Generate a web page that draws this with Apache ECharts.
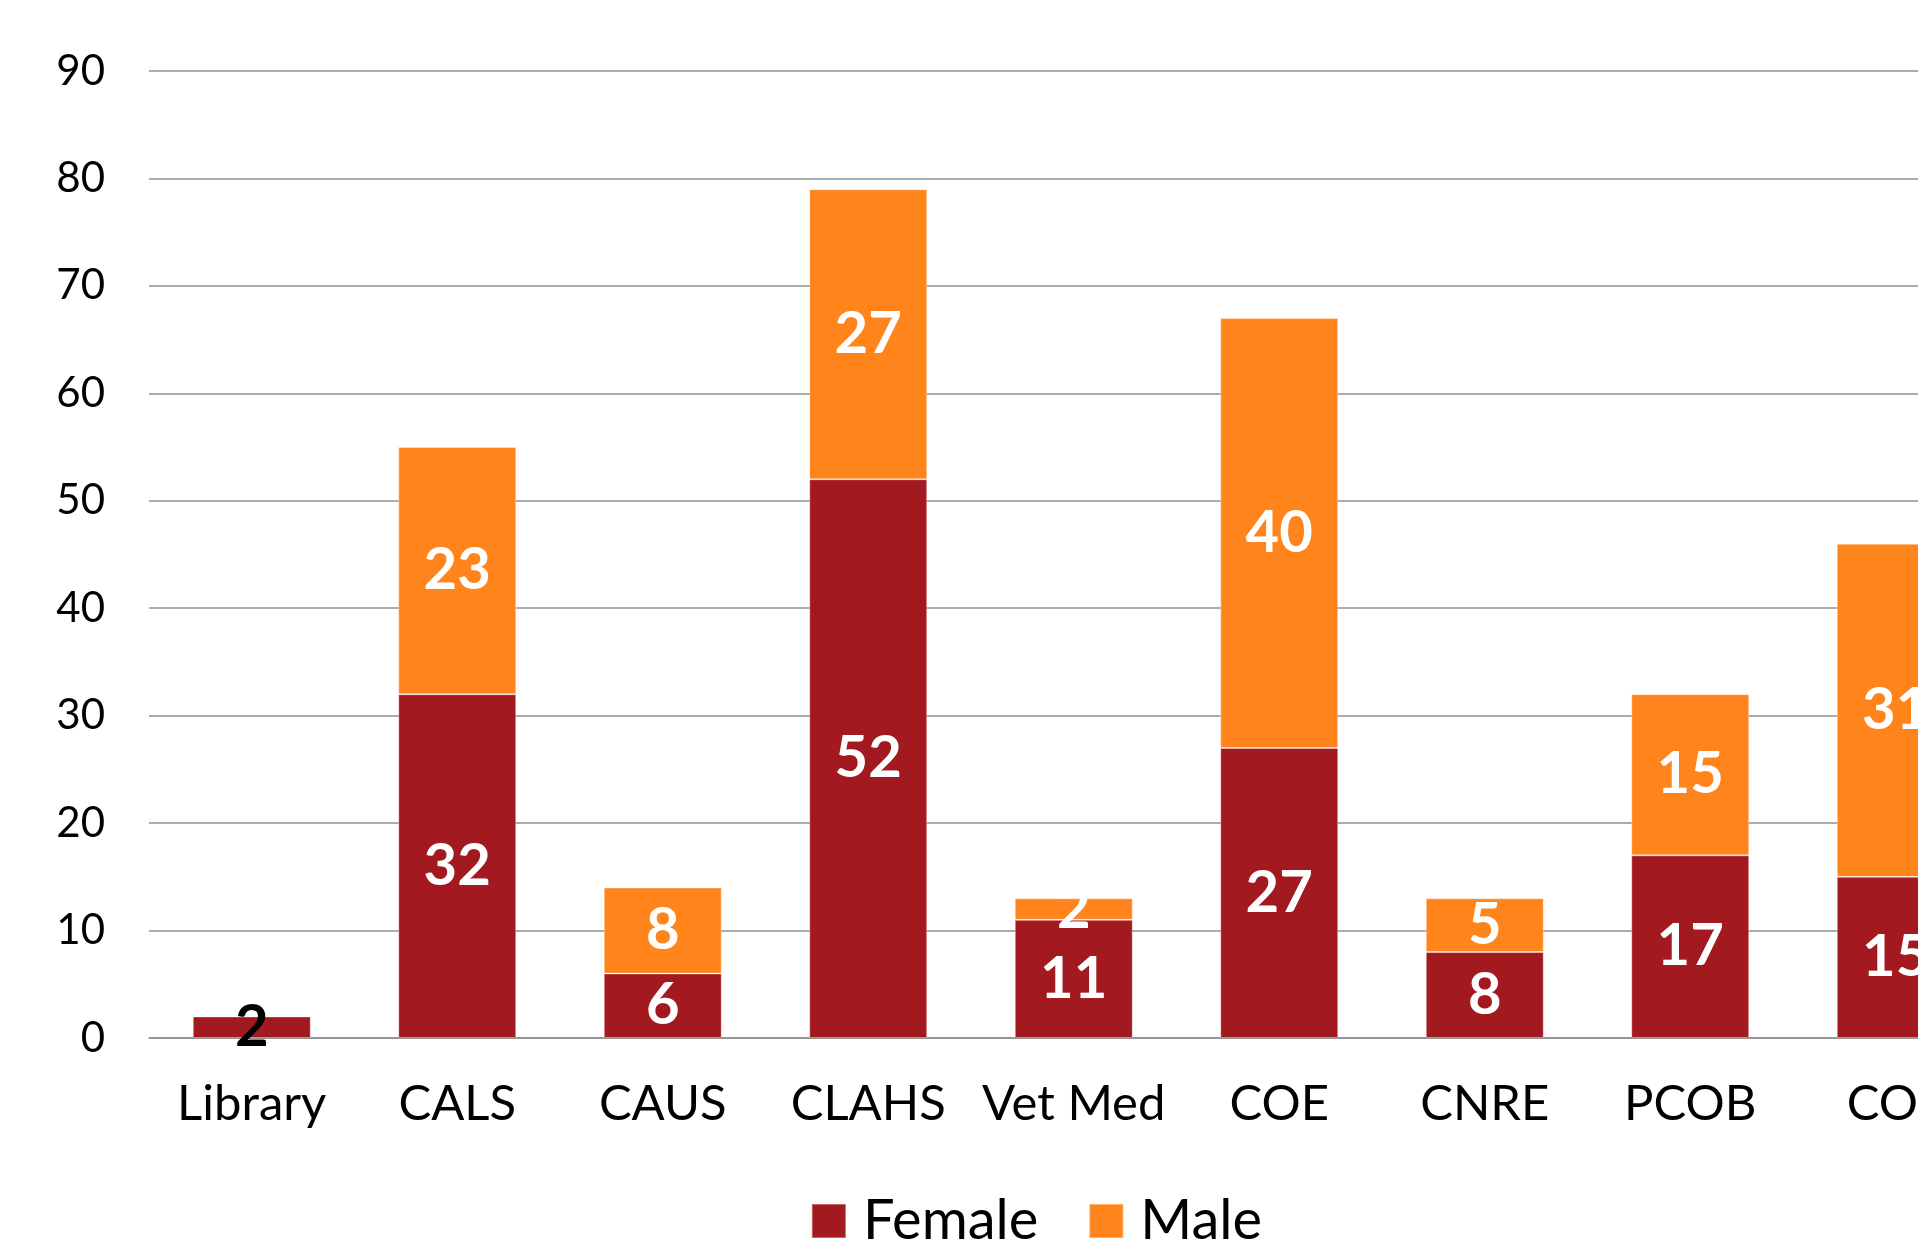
<!DOCTYPE html>
<html>
<head>
<meta charset="utf-8">
<title>Female / Male by college</title>
<script src="https://cdn.jsdelivr.net/npm/echarts@6/dist/echarts.min.js"></script>
<style>
  html, body { margin: 0; padding: 0; background: #fff; overflow: hidden; }
  #chart { width: 2073px; height: 1245px; }
</style>
</head>
<body>
<div id="chart"></div>
<script>
// data
const colleges = ['Library', 'CALS', 'CAUS', 'CLAHS', 'Vet Med', 'COE', 'CNRE', 'PCOB', 'COS'];
const female = [2, 32, 6, 52, 11, 27, 8, 17, 15];
const male = [0, 23, 8, 27, 2, 40, 5, 15, 31];
const yTicks = [0, 10, 20, 30, 40, 50, 60, 70, 80, 90];

const FONT = 'Lato, "Open Sans", sans-serif';
const colors = ['#a31920', '#ff841c'];

const chart = echarts.init(document.getElementById('chart'));

// the Library bar is too thin, so its label is black
const femaleData = female.map(function (v, i) {
  const item = { value: v };
  if (i === 0) {
    item.label = { color: '#000' };
  }
  return item;
});

const labelStyle = {
  show: true,
  position: 'inside',
  color: '#fff',
  fontFamily: FONT,
  fontWeight: 'bold',
  fontSize: 58,
  formatter: function (p) {
    return p.value ? String(p.value) : '';
  },
};

const option = {
  animation: false,
  textStyle: { fontFamily: FONT },
  grid: {
    left: 149,
    right: 74.5,
    top: 71,
    bottom: 207,
  },
  legend: {
    data: ['Female', 'Male'],
    left: 'center',
    top: 1188,
    icon: 'rect',
    itemWidth: 34,
    itemHeight: 34,
    itemGap: 50,
    textStyle: {
      fontFamily: FONT,
      fontSize: 56,
      color: '#000',
      padding: [0, 0, 0, 12],
    },
  },
  xAxis: {
    type: 'category',
    data: colleges,
    axisLine: { lineStyle: { color: '#8f8f8f', width: 1.5 } },
    axisTick: { show: false },
    axisLabel: {
      color: '#000',
      fontFamily: FONT,
      fontSize: 49,
      margin: 42,
      interval: 0,
    },
  },
  yAxis: {
    type: 'value',
    min: yTicks[0],
    max: yTicks[yTicks.length - 1],
    interval: 10,
    axisLine: { show: false },
    axisTick: { show: false },
    axisLabel: {
      color: '#000',
      fontFamily: FONT,
      fontSize: 42,
      margin: 44,
    },
    splitLine: { lineStyle: { color: '#8f8f8f', width: 1.5 } },
  },
  series: [
    {
      name: 'Female',
      type: 'bar',
      stack: 'total',
      barWidth: '57.4%',
      itemStyle: { color: colors[0], borderColor: 'rgba(255,255,255,0.35)', borderWidth: 1 },
      label: labelStyle,
      data: femaleData,
    },
    {
      name: 'Male',
      type: 'bar',
      stack: 'total',
      itemStyle: { color: colors[1], borderColor: 'rgba(255,255,255,0.35)', borderWidth: 1 },
      label: labelStyle,
      data: male,
    },
  ],
};

chart.setOption(option);
</script>
</body>
</html>
